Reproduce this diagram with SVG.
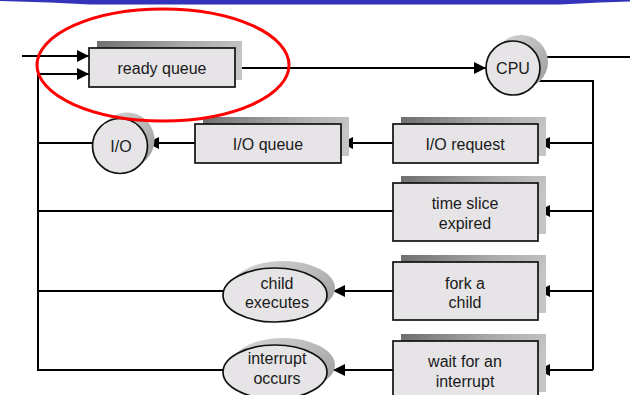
<svg xmlns="http://www.w3.org/2000/svg" width="630" height="395" viewBox="0 0 630 395">
<defs>
<linearGradient id="sh" x1="0" y1="0" x2="1" y2="0.3">
<stop offset="0" stop-color="#6e6e6e"/>
<stop offset="0.6" stop-color="#ababab"/>
<stop offset="1" stop-color="#c6c6c6"/>
</linearGradient>
<linearGradient id="csh" x1="0" y1="0" x2="1" y2="0.6">
<stop offset="0" stop-color="#d8d8d8"/>
<stop offset="0.7" stop-color="#b8b8b8"/>
<stop offset="1" stop-color="#a6a6a6"/>
</linearGradient>
<marker id="ah" viewBox="0 0 12 12" refX="12" refY="6" markerWidth="12" markerHeight="12" markerUnits="userSpaceOnUse" orient="auto">
<path d="M0,0 L12,6 L0,12 Z" fill="#000"/>
</marker>
<style>
.box{fill:#e6e4e6;stroke:#111;stroke-width:1.7}
.shb{fill:url(#sh)}
.shc{fill:url(#csh)}
.ln{fill:none;stroke:#000;stroke-width:2}
.ar{fill:none;stroke:#000;stroke-width:2;marker-end:url(#ah)}
text{font-family:"Liberation Sans",Arial,Helvetica,sans-serif;font-size:16px;fill:#1a1a1a;text-anchor:middle}
</style>
</defs>
<rect width="630" height="395" fill="#fff"/>
<polygon points="0,0 630,0 630,1.5 600,2.5 560,4.5 90,4.5 50,2.5 0,1" fill="#3333bb"/>

<g id="connectors">
<line class="ar" x1="22" y1="56" x2="89" y2="56"/>
<line class="ar" x1="38" y1="74" x2="89" y2="74"/>
<polyline class="ln" points="38,73 38,370 223,370"/>
<line class="ln" x1="38" y1="143" x2="93" y2="143"/>
<line class="ln" x1="38" y1="211" x2="393" y2="211"/>
<line class="ln" x1="38" y1="291" x2="223" y2="291"/>
<line class="ar" x1="235" y1="68" x2="486" y2="68"/>
<line class="ln" x1="539" y1="57" x2="630" y2="57"/>
<polyline class="ln" points="536,81 593,81 593,370"/>
<line class="ar" x1="593" y1="143" x2="538" y2="143"/>
<line class="ar" x1="593" y1="211" x2="538" y2="211"/>
<line class="ar" x1="593" y1="291" x2="538" y2="291"/>
<line class="ar" x1="593" y1="370" x2="538" y2="370"/>
<line class="ar" x1="393" y1="143" x2="341" y2="143"/>
<line class="ar" x1="195" y1="143" x2="147" y2="143"/>
<line class="ar" x1="393" y1="291" x2="333" y2="291"/>
<line class="ar" x1="393" y1="370" x2="333" y2="370"/>
</g>

<g id="ready-queue">
<rect class="shb" x="97" y="41" width="145" height="39"/>
<rect class="box" x="89" y="48" width="146" height="39"/>
<text x="162" y="74">ready queue</text>
</g>

<g id="cpu">
<circle class="shc" cx="521" cy="62" r="27"/>
<circle class="box" cx="513" cy="68" r="27"/>
<text x="513" y="74">CPU</text>
</g>

<g id="io">
<circle class="shc" cx="127" cy="140" r="27.5"/>
<circle class="box" cx="120" cy="146" r="27.5"/>
<text x="121" y="152">I/O</text>
</g>

<g id="io-queue">
<rect class="shb" x="203" y="117" width="146" height="39"/>
<rect class="box" x="195" y="124" width="146" height="39"/>
<text x="268" y="150">I/O queue</text>
</g>

<g id="io-request">
<rect class="shb" x="401" y="117" width="145" height="39"/>
<rect class="box" x="393" y="124" width="145" height="39"/>
<text x="465" y="150">I/O request</text>
</g>

<g id="time-slice">
<rect class="shb" x="401" y="176" width="145" height="58"/>
<rect class="box" x="393" y="183" width="145" height="58"/>
<text x="465" y="209">time slice</text>
<text x="465" y="229">expired</text>
</g>

<g id="fork-child">
<rect class="shb" x="401" y="255" width="145" height="58"/>
<rect class="box" x="393" y="262" width="145" height="58"/>
<text x="465" y="289">fork a</text>
<text x="465" y="308">child</text>
</g>

<g id="wait-interrupt">
<rect class="shb" x="401" y="334" width="145" height="58"/>
<rect class="box" x="393" y="341" width="145" height="58"/>
<text x="465" y="367">wait for an</text>
<text x="465" y="387">interrupt</text>
</g>

<g id="child-executes">
<ellipse class="shc" cx="283" cy="288" rx="52" ry="27"/>
<ellipse class="box" cx="275" cy="295" rx="52" ry="27"/>
<text x="277" y="289">child</text>
<text x="277" y="308">executes</text>
</g>

<g id="interrupt-occurs">
<ellipse class="shc" cx="283" cy="365" rx="52" ry="27"/>
<ellipse class="box" cx="275" cy="372" rx="52" ry="27"/>
<text x="277" y="364">interrupt</text>
<text x="277" y="384">occurs</text>
</g>

<ellipse cx="163" cy="65" rx="126" ry="56" fill="none" stroke="#f00" stroke-width="3"/>
</svg>
